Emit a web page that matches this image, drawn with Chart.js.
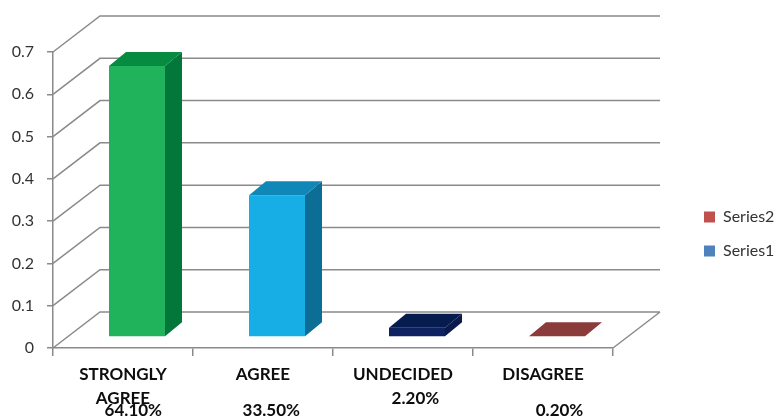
<!DOCTYPE html>
<html lang="en">
<head>
<meta charset="UTF-8">
<title>Survey Responses</title>
<script src="https://cdn.jsdelivr.net/npm/chart.js"></script>
<style>
  body { margin: 0; padding: 0; background: #ffffff; }
  #chartBox { width: 781px; height: 416px; }
</style>
</head>
<body>
<div id="chartBox"><canvas id="surveyChart" width="781" height="416"></canvas></div>
<script>
// ---- data ----
var categoryLines = [['STRONGLY', '', 'AGREE'], ['AGREE'], ['UNDECIDED'], ['DISAGREE']];
var percentLabels = ['64.10%', '33.50%', '2.20%', '0.20%'];
var series1Values = [0.641, 0.335, 0.022, 0.002];
var series2Values = [null, null, null, null];
var seriesNames = ['Series1', 'Series2'];
var yTickLabels = ['0', '0.1', '0.2', '0.3', '0.4', '0.5', '0.6', '0.7'];

// ---- styles ----
var frontColors = ['#21b35c', '#16aee4', '#0e2262', '#b04a47'];
var sideColors  = ['#03763a', '#0d6e95', '#0a1a4a', '#7a3333'];
var topColors   = ['#078b40', '#1088b7', '#061b4e', '#8c3b3b'];
var legendColors = ['#4f81bd', '#c0504d'];
var gridGrey = '#8a8a8a';

// which 12px text row the percentage sits on, and a small nudge right
var percentRow = [3, 3, 2, 3];
var percentPad = ['     ', '    ', '      ', '        '];

// oblique 3D offsets (px)
var WALL_DX = 47, WALL_DY = -36;
var BAR_DX = 14, BAR_DY = -11;
var DEPTH_X = 17, DEPTH_Y = -14;

var tickLabels = categoryLines.map(function(lines, i) {
    var out = lines.slice();
    while (out.length < percentRow[i]) out.push('');
    out.push(percentPad[i] + percentLabels[i]);
    return out;
});

var depth3d = {
    id: 'depth3d',
    beforeDatasetsDraw: function(chart) {
        var ctx = chart.ctx, a = chart.chartArea, y = chart.scales.y;
        ctx.save();
        ctx.strokeStyle = gridGrey;
        ctx.lineWidth = 1.5;
        ctx.beginPath();
        y.ticks.forEach(function(t) {
            var py = y.getPixelForValue(t.value);
            ctx.moveTo(a.left, py);
            ctx.lineTo(a.left + WALL_DX, py + WALL_DY);
            ctx.lineTo(a.right + WALL_DX, py + WALL_DY);
        });
        ctx.moveTo(a.right, a.bottom);
        ctx.lineTo(a.right + WALL_DX, a.bottom + WALL_DY);
        ctx.stroke();
        ctx.restore();
        // bars sit a little way back from the front plane
        ctx.save();
        ctx.translate(BAR_DX, BAR_DY);
    },
    afterDatasetsDraw: function(chart) {
        var ctx = chart.ctx;
        var meta = chart.getDatasetMeta(0);
        meta.data.forEach(function(bar, i) {
            var p = bar.getProps(['x', 'y', 'base', 'width'], true);
            var l = p.x - p.width / 2, r = p.x + p.width / 2;
            // side face
            ctx.fillStyle = sideColors[i];
            ctx.beginPath();
            ctx.moveTo(r, p.y);
            ctx.lineTo(r + DEPTH_X, p.y + DEPTH_Y);
            ctx.lineTo(r + DEPTH_X, p.base + DEPTH_Y);
            ctx.lineTo(r, p.base);
            ctx.closePath();
            ctx.fill();
            // top face
            ctx.fillStyle = topColors[i];
            ctx.beginPath();
            ctx.moveTo(l, p.y);
            ctx.lineTo(l + DEPTH_X, p.y + DEPTH_Y);
            ctx.lineTo(r + DEPTH_X, p.y + DEPTH_Y);
            ctx.lineTo(r, p.y);
            ctx.closePath();
            ctx.fill();
        });
        ctx.restore();
    }
};

new Chart(document.getElementById('surveyChart'), {
    type: 'bar',
    data: {
        labels: tickLabels,
        datasets: [{
            label: seriesNames[0],
            data: series1Values,
            backgroundColor: frontColors,
            borderWidth: 0,
            grouped: false,
            categoryPercentage: 0.4,
            barPercentage: 1
        }, {
            label: seriesNames[1],
            data: series2Values,
            backgroundColor: legendColors[1],
            borderWidth: 0,
            grouped: false,
            categoryPercentage: 0.4,
            barPercentage: 1
        }]
    },
    options: {
        responsive: false,
        animation: false,
        layout: { padding: { top: 52, left: 0, right: 0, bottom: 0 } },
        plugins: {
            tooltip: { enabled: false },
            legend: {
                position: 'right',
                reverse: true,
                maxWidth: 95,
                labels: {
                    boxWidth: 11,
                    boxHeight: 11,
                    padding: 18,
                    color: '#333333',
                    font: { family: 'Lato', size: 16 },
                    generateLabels: function(chart) {
                        return chart.data.datasets.map(function(ds, i) {
                            return {
                                text: ds.label,
                                fillStyle: legendColors[i],
                                strokeStyle: legendColors[i],
                                lineWidth: 0,
                                hidden: false,
                                datasetIndex: i,
                                fontColor: '#333333'
                            };
                        });
                    }
                }
            }
        },
        scales: {
            x: {
                offset: true,
                grid: {
                    offset: true,
                    drawOnChartArea: false,
                    drawTicks: true,
                    tickLength: 8,
                    color: gridGrey,
                    lineWidth: 1.5
                },
                border: { display: true, color: gridGrey, width: 1.5 },
                ticks: {
                    padding: 13,
                    color: '#0d0d0d',
                    maxRotation: 0,
                    autoSkip: false,
                    font: { family: 'Lato', size: 17, weight: 'bold', lineHeight: '12px' }
                },
                afterFit: function(s) { s.height = 68; }
            },
            y: {
                min: 0,
                max: 0.7,
                grid: {
                    drawOnChartArea: false,
                    drawTicks: true,
                    tickLength: 6,
                    color: gridGrey,
                    lineWidth: 1.5
                },
                border: { display: true, color: gridGrey, width: 1.5 },
                ticks: {
                    stepSize: 0.1,
                    padding: 13,
                    color: '#333333',
                    font: { family: 'Lato', size: 16 },
                    callback: function(v, i) { return yTickLabels[i]; }
                },
                afterFit: function(s) { s.width = 53; }
            },
            y2: {
                position: 'right',
                display: true,
                grid: { display: false },
                border: { display: false },
                ticks: { display: false },
                afterFit: function(s) { s.width = 73; }
            }
        }
    },
    plugins: [depth3d]
});
</script>
</body>
</html>
